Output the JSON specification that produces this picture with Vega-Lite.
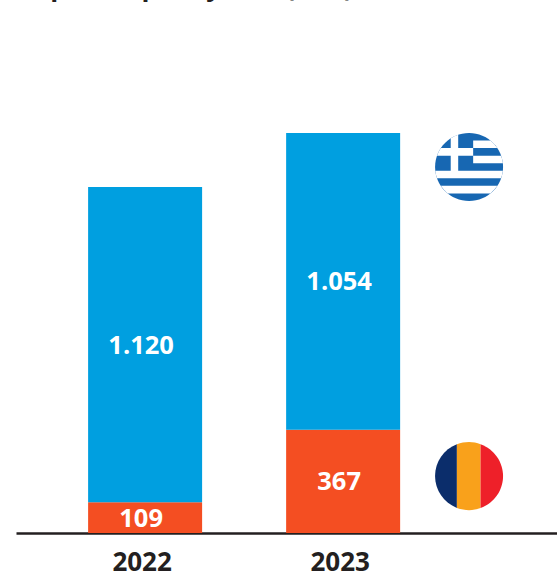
{
"$schema":"https://vega.github.io/schema/vega-lite/v6.json",
"width":541,"height":533,
"autosize":{"type":"none"},
"padding":{"left":16,"top":0,"right":0,"bottom":40},
"background":"white",
"config":{"view":{"stroke":null}},
"layer":[
{"data":{"values":[
{"year":2022,"country":"Romania","value":109,"label":"109"},
{"year":2022,"country":"Greece","value":1120,"label":"1.120"},
{"year":2023,"country":"Romania","value":367,"label":"367"},
{"year":2023,"country":"Greece","value":1054,"label":"1.054"}]},
"layer":[
{"mark":{"type":"bar","size":114},
"encoding":{
"x":{"field":"year","type":"quantitative","scale":{"domain":[2021.348,2024.08],"nice":false,"zero":false,"padding":0},
"axis":{"values":[2022,2023],"format":"d","title":null,"grid":false,"ticks":false,"domainColor":"#231F20","domainWidth":2.5,"labelFont":"Open Sans","labelFontSize":26,"labelFontWeight":700,"labelColor":"#231F20","labelPadding":16,"labelOverlap":false,"labelOffset":-3.5}},
"y":{"field":"value","type":"quantitative","stack":"zero","scale":{"domain":[0,1893],"nice":false,"zero":false},"axis":null},
"order":{"field":"country","sort":"descending"},
"color":{"field":"country","type":"nominal","scale":{"domain":["Greece","Romania"],"range":["#009FE0","#F44E22"]},"legend":null}}},
{"mark":{"type":"text","font":"Open Sans","fontSize":25.5,"fontWeight":700,"color":"white","baseline":"middle","align":"center","dx":-4,"dy":1},
"encoding":{
"x":{"field":"year","type":"quantitative"},
"y":{"field":"value","type":"quantitative","stack":"zero","bandPosition":0.5},
"order":{"field":"country","sort":"descending"},
"detail":{"field":"country"},
"text":{"field":"label","type":"nominal"}}}
]},
{"data":{"values":[
{"year":2021.348,"level":1893,"label":"Import capacity, net (MW)"}]},
"mark":{"type":"text","font":"Open Sans","fontSize":26,"fontWeight":700,"color":"#231F20","baseline":"alphabetic","align":"left","dy":-4.5},
"encoding":{
"x":{"field":"year","type":"quantitative"},
"y":{"field":"level","type":"quantitative"},
"text":{"field":"label","type":"nominal"}}},
{"data":{"values":[
{"year":2023.636,"level":1300,"part":"Greece blue"},
{"year":2023.636,"level":1300,"part":"Greece white"},
{"year":2023.636,"level":202,"part":"Romania blue"},
{"year":2023.636,"level":202,"part":"Romania yellow"},
{"year":2023.636,"level":202,"part":"Romania red"}]},
"mark":{"type":"point","filled":true,"opacity":1,"size":4624,"strokeWidth":0},
"encoding":{
"x":{"field":"year","type":"quantitative"},
"y":{"field":"level","type":"quantitative"},
"shape":{"field":"part","type":"nominal","legend":null,"scale":{
"domain":["Greece blue","Greece white","Romania blue","Romania yellow","Romania red"],
"range":[
"M-1,0A1,1 0 1,1 1,0A1,1 0 1,1 -1,0Z",
"M0.12,-0.778L0.628,-0.778A1,1 0 0,1 0.831,-0.556L0.12,-0.556ZM0.12,-0.333L0.943,-0.333A1,1 0 0,1 0.994,-0.111L0.12,-0.111ZM-0.994,0.111L0.994,0.111A1,1 0 0,1 0.943,0.333L-0.943,0.333A1,1 0 0,1 -0.994,0.111ZM-0.831,0.556L0.831,0.556A1,1 0 0,1 0.628,0.778L-0.628,0.778A1,1 0 0,1 -0.831,0.556ZM-0.54,-0.842A1,1 0 0,1 -0.32,-0.947L-0.32,0.111L-0.54,0.111ZM-0.831,-0.556L0.12,-0.556L0.12,-0.333L-0.943,-0.333A1,1 0 0,1 -0.831,-0.556Z",
"M-0.358,-0.934L-0.358,0.934A1,1 0 0,1 -0.358,-0.934Z",
"M-0.358,-0.934A1,1 0 0,1 0.338,-0.941L0.338,0.941A1,1 0 0,1 -0.358,0.934Z",
"M0.338,-0.941A1,1 0 0,1 0.338,0.941Z"]}},
"color":{"field":"part","type":"nominal","legend":null,"scale":{
"domain":["Greece blue","Greece white","Romania blue","Romania yellow","Romania red"],
"range":["#1767B2","#FFFFFF","#0B2D6B","#F9A11B","#EE2029"]}}}}
],
"resolve":{"scale":{"color":"independent"}}
}
